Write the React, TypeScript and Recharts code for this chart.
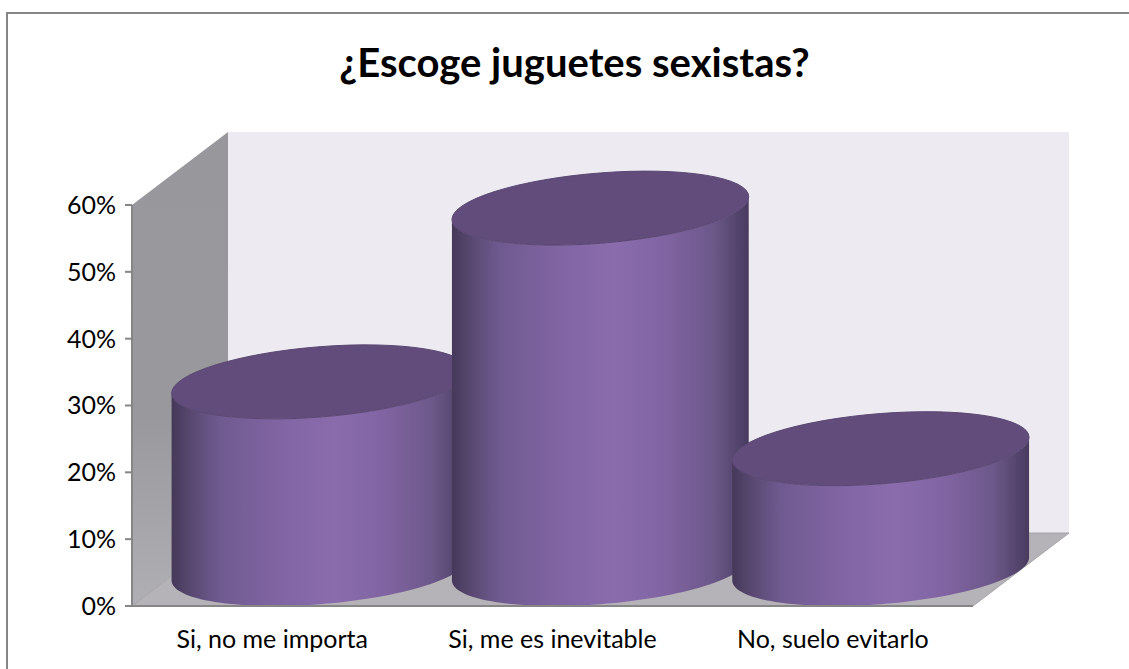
import React from 'react';
import { BarChart, Bar, XAxis, YAxis, Customized, Cell } from 'recharts';

const categories = ['Si, no me importa', 'Si, me es inevitable', 'No, suelo evitarlo'];
const values = [28, 54, 18];
const yTicks = [0, 10, 20, 30, 40, 50, 60];
const titleText = '¿Escoge juguetes sexistas?';

const W = 1129, H = 669;
const M = { left: 132, right: 156, top: 205, bottom: 63 };
const DX = 96, DY = 73;
const FONT = 'Lato, Carlito, "Open Sans", sans-serif';
const rows = categories.map((name, i) => ({ name, value: values[i] }));

function Walls() {
  const l = M.left, r = W - M.right, t = M.top, b = H - M.bottom;
  return (
    <g>
      <defs>
        <linearGradient id="sideWall" x1="0" y1="0" x2="0" y2="1">
          <stop offset="0" stopColor="#98979b" />
          <stop offset="0.6" stopColor="#99989c" />
          <stop offset="1" stopColor="#b0afb3" />
        </linearGradient>
        <linearGradient id="cyl" x1="0" y1="0" x2="1" y2="0">
          <stop offset="0" stopColor="#453859" />
          <stop offset="0.06" stopColor="#57476f" />
          <stop offset="0.16" stopColor="#6f5a8f" />
          <stop offset="0.35" stopColor="#8064a2" />
          <stop offset="0.55" stopColor="#8a6cad" />
          <stop offset="0.72" stopColor="#8064a2" />
          <stop offset="0.88" stopColor="#6c5889" />
          <stop offset="0.97" stopColor="#51426a" />
          <stop offset="1" stopColor="#483b5e" />
        </linearGradient>
      </defs>
      <polygon points={`${l + DX},${t - DY} ${r + DX},${t - DY} ${r + DX},${b - DY} ${l + DX},${b - DY}`} fill="#edebf1" />
      <polygon points={`${l},${t} ${l + DX},${t - DY} ${l + DX},${b - DY} ${l},${b}`} fill="url(#sideWall)" />
      <polygon points={`${l},${b} ${r},${b} ${r + DX},${b - DY} ${l + DX},${b - DY}`} fill="#b5b3b8" stroke="#a3a3a5" strokeWidth={1} />
    </g>
  );
}

function ring(cx: number, cy: number, rx: number, ry: number, from: number, to: number) {
  const phi = (72 * Math.PI) / 180;
  const pts: string[] = [];
  const n = 64;
  for (let i = 0; i <= n; i++) {
    const a = from + ((to - from) * i) / n;
    pts.push(`${(cx + rx * Math.cos(a)).toFixed(2)},${(cy - ry * Math.cos(a - phi)).toFixed(2)}`);
  }
  return pts;
}

function Cylinder(props: any) {
  const { x, y, width, height } = props;
  const rx = width * 0.53;
  const ry = 37;
  const cx = x + width / 2 + DX / 2;
  const shift = 37;
  const topY = y - shift;
  const baseY = y + height - shift;
  const top = ring(cx, topY, rx, ry, 0, Math.PI * 2);
  const upper = ring(cx, topY, rx, ry, Math.PI, Math.PI * 2);
  const lower = ring(cx, baseY, rx, ry, Math.PI * 2, Math.PI);
  return (
    <g>
      <path d={`M${upper.join(' L')} L${lower.join(' L')} Z`} fill="url(#cyl)" />
      <path d={`M${top.join(' L')} Z`} fill="#614c7b" stroke="#5a4772" strokeWidth={1} />
    </g>
  );
}

export default function App() {
  return (
    <div style={{ position: 'absolute', left: 0, top: 0, width: W, height: H, background: '#fff', overflow: 'hidden' }}>
      <div style={{ position: 'absolute', left: 6, top: 12, width: 1200, height: 700, border: '2px solid #868686' }} />
      <div style={{ position: 'absolute', left: 0, top: 38, width: 1149, textAlign: 'center', fontFamily: FONT, fontWeight: 700, fontSize: 40, lineHeight: '48px', color: '#000' }}>
        {titleText}
      </div>
      <div style={{ position: 'absolute', left: 0, top: 0 }}>
        <BarChart
          width={W}
          height={H}
          data={rows}
          barCategoryGap={0}
          margin={{ left: M.left - 60, right: M.right, top: M.top, bottom: M.bottom - 40 }}
        >
          <Customized component={Walls} />
          <XAxis
            dataKey="name"
            height={40}
            tickLine={false}
            axisLine={{ stroke: '#868686', strokeWidth: 2 }}
            tick={{ fill: '#000', fontSize: 25, fontFamily: FONT }}
            tickMargin={18}
            interval={0}
          />
          <YAxis
            width={60}
            domain={[0, 60]}
            ticks={yTicks}
            tickFormatter={(v: number) => `${v}%`}
            axisLine={{ stroke: '#868686', strokeWidth: 2 }}
            tickLine={{ stroke: '#868686', strokeWidth: 2 }}
            tickSize={7}
            tick={{ fill: '#000', fontSize: 25, fontFamily: FONT }}
            tickMargin={9}
          />
          <Bar dataKey="value" isAnimationActive={false} shape={Cylinder}>
            {rows.map((r) => (
              <Cell key={r.name} fill="#8064a2" />
            ))}
          </Bar>
        </BarChart>
      </div>
    </div>
  );
}
